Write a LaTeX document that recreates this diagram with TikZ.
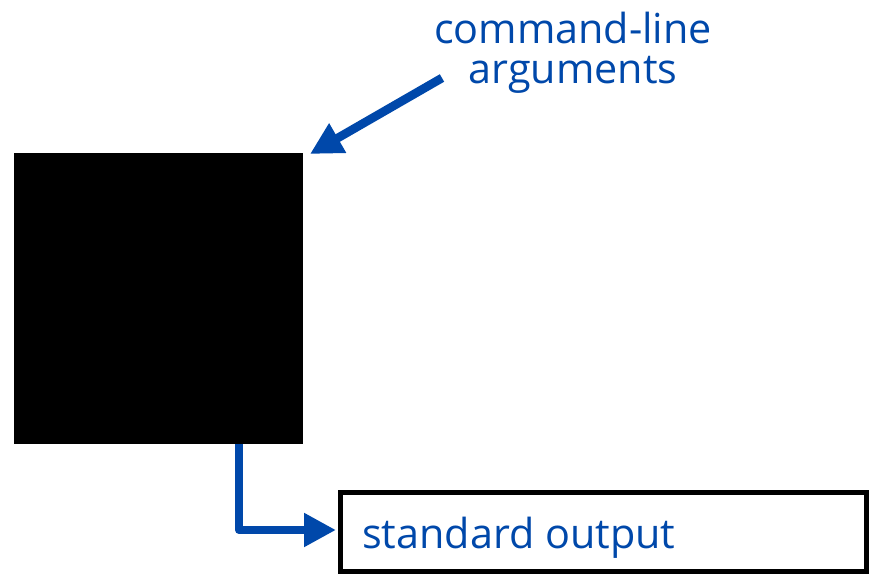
\documentclass[tikz,border=0pt]{standalone}
\usepackage{fontspec}
\setmainfont{Open Sans}
\usetikzlibrary{arrows.meta}
\definecolor{myblue}{RGB}{0,72,170}
\begin{document}
\begin{tikzpicture}[x=0.75pt,y=-0.75pt,
  bluearrow/.style={draw=myblue,line width=#1,line join=round,-{Triangle[length=24pt,width=24pt]}},
  label/.style={text=myblue,font=\fontsize{31}{32}\selectfont,inner sep=0pt}]
\useasboundingbox (0,0) rectangle (869,574);
\node[fill=black,minimum width=289*0.75pt,minimum height=291*0.75pt,inner sep=0pt,anchor=north west] (prog) at (14,153) {};
\draw[line width=3.75pt] (340.5,492.5) rectangle (866.5,571.5);
\node[label,anchor=base west] (out) at (362,548) {standard output};
\coordinate (outin) at (336,530);
\node[label,anchor=base] (args1) at (573,44) {command-line};
\node[label,anchor=base] (args2) at (573,84) {arguments};
\coordinate (argtail) at (442,78);
\coordinate (argtip) at (310,154);
\draw[bluearrow=6.5pt] (argtail) -- (argtip);
\draw[bluearrow=6pt] (239,444) |- (outin);
\end{tikzpicture}
\end{document}
